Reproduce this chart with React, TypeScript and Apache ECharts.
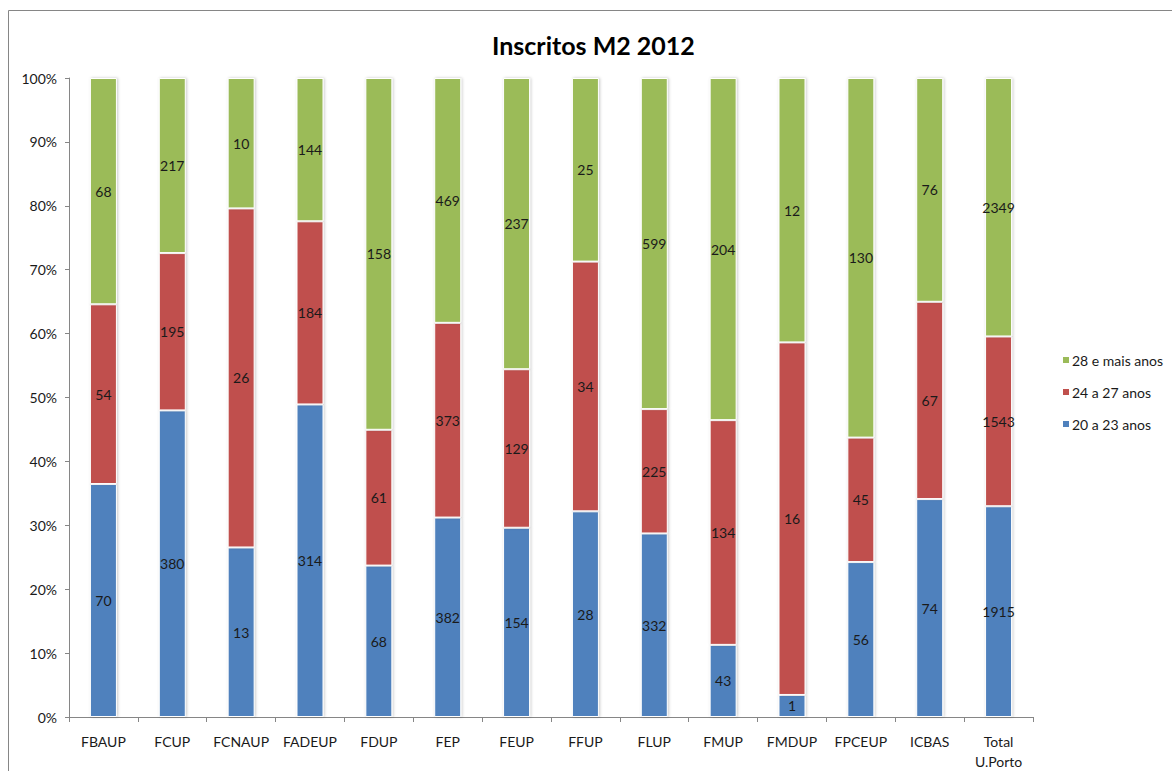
import React, { useEffect, useRef } from "react";
import * as echarts from "echarts";

const categories = [
  "FBAUP", "FCUP", "FCNAUP", "FADEUP", "FDUP", "FEP", "FEUP",
  "FFUP", "FLUP", "FMUP", "FMDUP", "FPCEUP", "ICBAS", "Total\nU.Porto",
];
const age20to23 = [70, 380, 13, 314, 68, 382, 154, 28, 332, 43, 1, 56, 74, 1915];
const age24to27 = [54, 195, 26, 184, 61, 373, 129, 34, 225, 134, 16, 45, 67, 1543];
const age28plus = [68, 217, 10, 144, 158, 469, 237, 25, 599, 204, 12, 130, 76, 2349];

const seriesNames = ["20 a 23 anos", "24 a 27 anos", "28 e mais anos"];
const seriesColors = ["#4F81BD", "#C0504D", "#9BBB59"];
const yTicks = { min: 0, max: 100, interval: 10 };

const FONT = "Lato, 'Open Sans', sans-serif";

export default function App() {
  const ref = useRef<HTMLDivElement>(null);
  useEffect(() => {
    document.body.style.margin = "0";
    if (!ref.current) return;
    const chart = echarts.init(ref.current, undefined, { renderer: "svg" });
    const groups = [age20to23, age24to27, age28plus];
    const totals = categories.map((_, i) => groups.reduce((s, g) => s + g[i], 0));
    const series = groups.map((g, si) => ({
      name: seriesNames[si],
      type: "bar",
      stack: "total",
      barWidth: 27,
      data: g.map((v, i) => ({ value: (v / totals[i]) * 100, count: v })),
      itemStyle: {
        color: seriesColors[si],
        borderColor: "#ffffff",
        borderWidth: 1,
        shadowBlur: 3,
        shadowColor: "rgba(0,0,0,0.22)",
        shadowOffsetX: 1,
        shadowOffsetY: 0,
      },
      label: {
        show: true,
        position: "inside",
        color: "#1a1a1a",
        fontFamily: FONT,
        fontSize: 14,
        formatter: (p: any) => String(p.data.count),
      },
    }));
    chart.setOption({
      animation: false,
      backgroundColor: "#ffffff",
      title: {
        text: "Inscritos M2 2012",
        left: 487,
        top: 27,
        textStyle: { fontFamily: FONT, fontSize: 25, fontWeight: "bold", color: "#000" },
      },
      legend: {
        orient: "vertical",
        left: 1056,
        top: 348,
        itemWidth: 8,
        itemHeight: 8,
        itemGap: 18,
        icon: "rect",
        data: [seriesNames[2], seriesNames[1], seriesNames[0]],
        textStyle: { fontFamily: FONT, fontSize: 14, color: "#1a1a1a", padding: [0, 0, 0, -3] },
      },
      grid: { left: 69, right: 139, top: 78, bottom: 54, containLabel: false },
      xAxis: {
        type: "category",
        data: categories,
        axisLine: { lineStyle: { color: "#868686" } },
        axisTick: { show: true, interval: 0, length: 5, lineStyle: { color: "#868686" } },
        axisLabel: {
          interval: 0,
          margin: 14,
          color: "#1a1a1a",
          fontFamily: FONT,
          fontSize: 14,
          lineHeight: 20,
        },
      },
      yAxis: {
        type: "value",
        min: yTicks.min,
        max: yTicks.max,
        interval: yTicks.interval,
        axisLine: { show: true, lineStyle: { color: "#868686" } },
        axisTick: { show: true, length: 4, lineStyle: { color: "#868686" } },
        splitLine: { show: false },
        axisLabel: {
          formatter: "{value}%",
          margin: 12,
          color: "#1a1a1a",
          fontFamily: FONT,
          fontSize: 14,
        },
      },
      graphic: [
        {
          type: "rect",
          shape: { x: 8.5, y: 10.5, width: 1200, height: 800 },
          style: { fill: "none", stroke: "#868686", lineWidth: 1 },
          silent: true,
          z: -1,
        },
      ],
      series,
    });
    return () => chart.dispose();
  }, []);
  return <div ref={ref} style={{ width: 1172, height: 771 }} />;
}
